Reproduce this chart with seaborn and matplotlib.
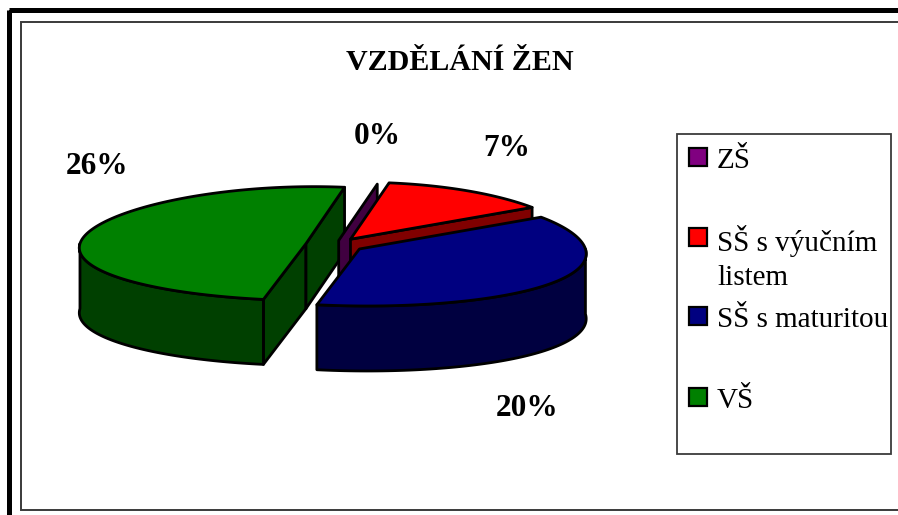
import numpy as np
import matplotlib
matplotlib.use("Agg")
import matplotlib.pyplot as plt
from matplotlib.patches import Rectangle
import seaborn as sns

# data
title = "VZDĚLÁNÍ ŽEN"
categories = ["ZŠ", "SŠ s výučním\nlistem", "SŠ s maturitou", "VŠ"]
values = [0, 7, 20, 26]

# styles
top_colors = sns.color_palette(["#800080", "#FF0000", "#000080", "#008000"])
side_colors = sns.color_palette(["#400040", "#800000", "#000040", "#004000"])

# layout (pixels)
W, H = 898, 515
CENTRE = (336, 245)
RX, RY, DEPTH = 226, 57, 65
BULGE, PERSP = 8, 9
START_DEG = 8.5
EXPLODE = [0.08, 0.12, 0.125, 0.135]
LABEL_POS = [(377, 136), (507, 149), (527, 409), (97, 167)]
LEGEND_BOX = (677, 134, 214, 320)
LEGEND_Y = [157, 237, 316, 397]
LW = 2.0

sns.set_theme(style="white")
plt.rcParams["font.family"] = ["Liberation Serif", "DejaVu Serif"]

fig = plt.figure(figsize=(W / 100, H / 100), dpi=100, facecolor="white")
ax = fig.add_axes([0, 0, 1, 1])
ax.set_xlim(0, W)
ax.set_ylim(H, 0)
ax.axis("off")

# frames
ax.add_patch(Rectangle((8.5, 10), W + 20, H + 20, fc="none", ec="black", lw=3.6, zorder=1))
ax.add_patch(Rectangle((20.5, 21.5), W + 20, 488.5, fc="white", ec="#3a3a3a", lw=1.4, zorder=1))


def pt(c, deg):
    t = np.radians(deg)
    # squashed circle, slightly wider towards the viewer as in a 3-D projection
    x = RX * np.sin(t) + BULGE * np.cos(t) ** 2 - PERSP * np.sin(2 * t)
    return c[0] + x, c[1] - RY * np.cos(t)


def poly(xs, ys, color):
    ax.fill(xs, ys, facecolor=color, edgecolor="black", lw=LW, joinstyle="round", zorder=3)


def draw_slice(c, a0, a1, top, side):
    # visible cut walls
    for deg, visible in ((a0, np.sin(np.radians(a0)) < 0), (a1, np.sin(np.radians(a1)) > 0)):
        if visible:
            ex, ey = pt(c, deg)
            poly([c[0], ex, ex, c[0]], [c[1], ey, ey + DEPTH, c[1] + DEPTH], side)
    # outer rim, front half only
    for k in range(-1, 2):
        lo, hi = max(a0, 90 + 360 * k), min(a1, 270 + 360 * k)
        if hi > lo:
            th = np.linspace(lo, hi, 80)
            xs, ys = pt(c, th)
            poly(np.r_[xs, xs[::-1]], np.r_[ys, ys[::-1] + DEPTH], side)
    # top face
    if a1 > a0:
        th = np.linspace(a0, a1, 160)
        xs, ys = pt(c, th)
        poly(np.r_[c[0], xs], np.r_[c[1], ys], top)


total = sum(values)
edges = START_DEG + np.r_[0, np.cumsum(values)] / total * 360
slices = []
for i, v in enumerate(values):
    mid = np.radians((edges[i] + edges[i + 1]) / 2)
    c = (CENTRE[0] + EXPLODE[i] * RX * np.sin(mid), CENTRE[1] - EXPLODE[i] * RY * np.cos(mid))
    slices.append((c, edges[i], edges[i + 1], top_colors[i], side_colors[i]))

for i in (3, 0, 1, 2):  # back to front
    draw_slice(*slices[i])

# texts
ax.text(460, 62, title, ha="center", va="center", fontsize=21.6, fontweight="bold", color="black")
for v, (x, y) in zip(values, LABEL_POS):
    ax.text(x, y, f"{v}%", ha="center", va="center", fontsize=22.5, fontweight="bold", color="black")

# legend
x, y, w, h = LEGEND_BOX
ax.add_patch(Rectangle((x, y), w, h, fc="white", ec="#3a3a3a", lw=1.3, zorder=2))
for name, col, ly in zip(categories, top_colors, LEGEND_Y):
    ax.add_patch(Rectangle((689, ly - 9), 18, 18, fc=col, ec="black", lw=1.6, zorder=3))
    ax.text(717, ly + 4, name.split("\n")[0], ha="left", va="center", fontsize=21, color="black")
    if "\n" in name:
        ax.text(717, ly + 41, name.split("\n")[1], ha="left", va="center", fontsize=21, color="black")

fig.savefig("out.png", dpi=100, facecolor="white")
